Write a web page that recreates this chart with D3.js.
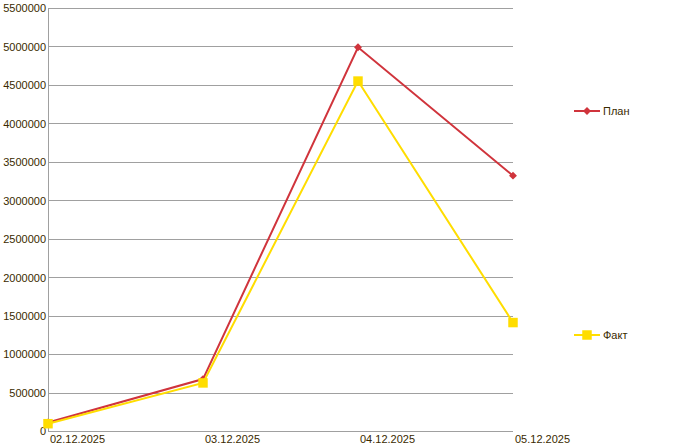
<!DOCTYPE html>
<html>
<head>
<meta charset="utf-8">
<script src="https://cdn.jsdelivr.net/npm/d3@7"></script>
<style>
body { margin: 0; background: #fff; }
text { font-family: "Liberation Sans", Arial, sans-serif; font-size: 11px; fill: #3a2a00; }
</style>
</head>
<body>
<script>
var dates = ["02.12.2025", "03.12.2025", "04.12.2025", "05.12.2025"];
var plan = [110000, 675000, 4990000, 3320000];
var fact = [95000, 625000, 4550000, 1410000];
var yTicks = [0, 500000, 1000000, 1500000, 2000000, 2500000, 3000000, 3500000, 4000000, 4500000, 5000000, 5500000];

var margin = {top: 8, right: 175, bottom: 17, left: 48},
    width = 688 - margin.left - margin.right,
    height = 448 - margin.top - margin.bottom;

var x = d3.scalePoint().domain(dates).range([0, width]);
var y = d3.scaleLinear().domain([0, 5500000]).range([height, 0]);

var svg = d3.select("body").append("svg")
    .attr("width", 688)
    .attr("height", 448)
  .append("g")
    .attr("transform", "translate(" + margin.left + "," + margin.top + ")");

// grid lines
svg.selectAll(".grid").data(yTicks).enter().append("line")
    .attr("x1", 0).attr("x2", width)
    .attr("y1", function(d) { return Math.round(y(d)) + 0.5; })
    .attr("y2", function(d) { return Math.round(y(d)) + 0.5; })
    .attr("stroke", "#a0a0a0");

// y axis
var yAxis = svg.append("g").call(d3.axisLeft(y).tickValues(yTicks).tickSize(0).tickPadding(2).tickFormat(d3.format("d")));
yAxis.select(".domain").attr("stroke", "#a0a0a0").attr("d", "M0.5," + height + "V0");
yAxis.selectAll("text").style("font-size", "11px").style("font-family", null).attr("fill", "#3a2a00").attr("dy", "0.35em");

// x axis labels
svg.selectAll(".xl").data(dates).enter().append("text")
    .attr("x", function(d) { return x(d) + 2; })
    .attr("y", height + 12)
    .text(function(d) { return d; });

var line = d3.line()
    .x(function(d, i) { return x(dates[i]); })
    .y(function(d) { return y(d); });

var series = [
  {name: "План", values: plan, color: "#d0343c", marker: "diamond", ly: 111},
  {name: "Факт", values: fact, color: "#ffdd00", marker: "square", ly: 335}
];

series.forEach(function(s) {
  svg.append("path").datum(s.values)
      .attr("fill", "none").attr("stroke", s.color).attr("stroke-width", 2)
      .attr("d", line);
  var sym = s.marker === "diamond"
    ? d3.symbol().type(d3.symbolDiamond2).size(40)
    : d3.symbol().type(d3.symbolSquare).size(90);
  svg.selectAll(null).data(s.values).enter().append("path")
      .attr("d", sym)
      .attr("fill", s.color)
      .attr("transform", function(d, i) { return "translate(" + x(dates[i]) + "," + y(d) + ")"; });

  // legend
  var lg = svg.append("g").attr("transform", "translate(" + (574 - margin.left) + "," + (s.ly - margin.top) + ")");
  lg.append("line").attr("x1", 0).attr("x2", 26).attr("stroke", s.color).attr("stroke-width", 2);
  lg.append("path").attr("d", sym).attr("fill", s.color).attr("transform", "translate(13,0)");
  lg.append("text").attr("x", 29).attr("dy", "0.35em").text(s.name);
});
</script>
</body>
</html>
